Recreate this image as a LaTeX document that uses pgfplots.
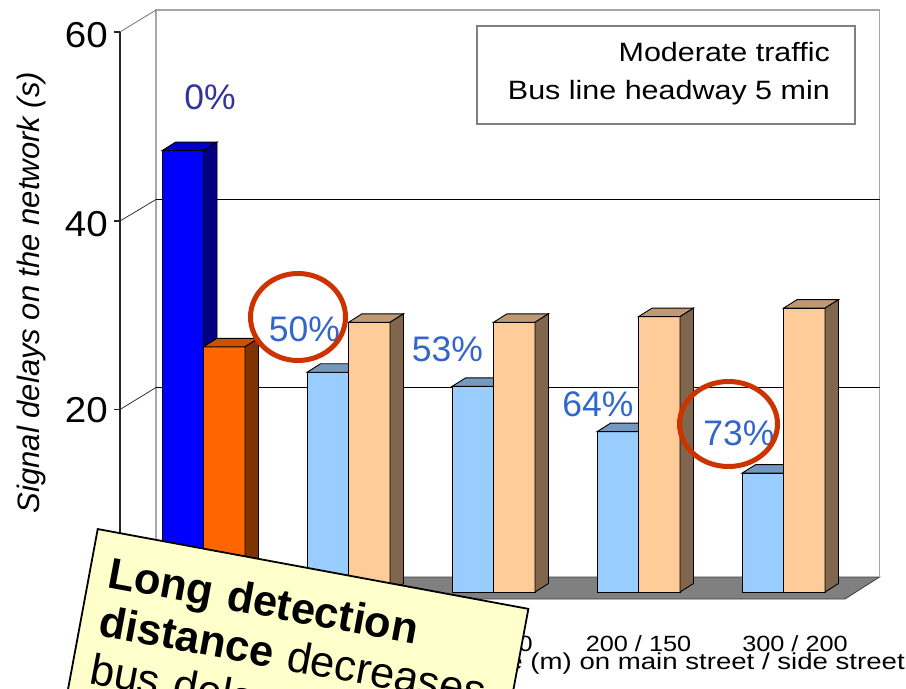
\documentclass[border=0pt]{standalone}
\usepackage{pgfplots}
\pgfplotsset{compat=1.18}
\usepackage{pgfplotstable}
\usepackage{fontspec}
\setmainfont{Liberation Sans}
\newfontfamily\wideA[FakeStretch=1.15]{Liberation Sans}
\newfontfamily\wideC[FakeStretch=1.2]{Liberation Sans}
\newfontfamily\wideB[FakeStretch=1.07]{Liberation Sans}

\definecolor{Afront0}{HTML}{0000FF}
\definecolor{Atop0}{HTML}{0000CC}
\definecolor{Aside0}{HTML}{000080}
\definecolor{Bfront0}{HTML}{FF6600}
\definecolor{Btop0}{HTML}{CC5200}
\definecolor{Bside0}{HTML}{803300}
\definecolor{Afront}{HTML}{99CCFF}
\definecolor{Atop}{HTML}{7399BF}
\definecolor{Aside}{HTML}{4D6680}
\definecolor{Bfront}{HTML}{FFCC99}
\definecolor{Btop}{HTML}{BF9973}
\definecolor{Bside}{HTML}{80664D}
\definecolor{pctA}{HTML}{333399}
\definecolor{pctB}{HTML}{3366CC}
\definecolor{ring}{HTML}{CC3300}
\definecolor{notefill}{HTML}{FFFFCC}
\definecolor{floorgray}{HTML}{808080}
\definecolor{wallgray}{HTML}{A6A6A6}

% signal delays (s): main = bus-priority series, side = second series
\pgfplotstableread{
group main side
0 46.8 26.0
1 23.3 28.6
2 21.8 28.6
3 17.0 29.2
4 12.6 30.1
}\delays

\def\bw{41.5}\def\ddx{13.5}\def\ddy{8.5}
\def\ybase{592}\def\yscale{9.43}\def\xzero{162}\def\xstep{145}

\newcommand\threedbar[5]{%
  \pgfmathsetmacro\xa{#1}%
  \pgfmathsetmacro\xb{#1+\bw}%
  \pgfmathsetmacro\xc{#1+\bw+\ddx}%
  \pgfmathsetmacro\xd{#1+\ddx}%
  \pgfmathsetmacro\yt{\ybase-\yscale*(#2)}%
  \pgfmathsetmacro\ytb{\yt-\ddy}%
  \pgfmathsetmacro\ybb{\ybase-\ddy}%
  \edef\temp{%
    \noexpand\addplot[fill=#3,draw=black,line width=0.9bp,mark=none] coordinates {(\xa,\ybase) (\xb,\ybase) (\xb,\yt) (\xa,\yt)} -- cycle;
    \noexpand\addplot[fill=#4,draw=black,line width=0.9bp,mark=none] coordinates {(\xa,\yt) (\xb,\yt) (\xc,\ytb) (\xd,\ytb)} -- cycle;
    \noexpand\addplot[fill=#5,draw=black,line width=0.9bp,mark=none] coordinates {(\xb,\ybase) (\xc,\ybb) (\xc,\ytb) (\xb,\yt)} -- cycle;
  }\temp
}

\begin{document}
\begin{tikzpicture}
\begin{axis}[
  width=906bp, height=689bp, scale only axis,
  xmin=0, xmax=906, ymin=0, ymax=689, y dir=reverse,
  hide axis,
]
% floor
\addplot[fill=floorgray, draw=black!75, line width=0.8bp, mark=none]
  coordinates {(120,599) (845,599) (879.5,577) (156,577)} -- cycle;
% back wall
\draw[wallgray, line width=1.5bp] (156,577) -- (156,10) -- (879.5,10) -- (879.5,577);
% side wall edges and gridlines
\draw[black!55, line width=0.8bp] (120,32) -- (156,10);
\draw[black!80, line width=0.8bp] (120,221) -- (156,199.5);
\draw[black!80, line width=0.8bp] (120,409.5) -- (156,387.5);
\draw[black, line width=0.9bp] (156,199.5) -- (879.5,199.5);
\draw[black, line width=0.9bp] (156,387.5) -- (879.5,387.5);
% front value axis with ticks
\draw[black!85, line width=1.2bp] (120,32) -- (120,599);
\draw[black!85, line width=1.2bp] (114,32) -- (120,32);
\draw[black!85, line width=1.2bp] (114,221) -- (120,221);
\draw[black!85, line width=1.2bp] (114,409.5) -- (120,409.5);
\draw[black!85, line width=1.2bp] (114,598) -- (120,598);
\node[anchor=east, inner sep=0, font=\wideB\fontsize{36bp}{40bp}\selectfont] at (108,35) {60};
\node[anchor=east, inner sep=0, font=\wideB\fontsize{36bp}{40bp}\selectfont] at (108,224) {40};
\node[anchor=east, inner sep=0, font=\wideB\fontsize{36bp}{40bp}\selectfont] at (108,410.5) {20};
\node[rotate=90, inner sep=0, font=\fontsize{31bp}{36bp}\selectfont\itshape] at (31,292.5) {Signal delays on the network (s)};

% bars
\pgfplotsinvokeforeach{0,...,4}{%
  \pgfplotstablegetelem{#1}{main}\of\delays \let\vA\pgfplotsretval
  \pgfplotstablegetelem{#1}{side}\of\delays \let\vB\pgfplotsretval
  \pgfmathsetmacro\xl{\xzero+\xstep*#1}%
  \pgfmathsetmacro\xr{\xl+\bw}%
  \ifnum#1=0 \def\sfx{0}\else\def\sfx{}\fi
  \threedbar{\xl}{\vA}{Afront\sfx}{Atop\sfx}{Aside\sfx}
  \threedbar{\xr}{\vB}{Bfront\sfx}{Btop\sfx}{Bside\sfx}
}

% category labels and axis title
\node[anchor=base, inner sep=0, font=\wideA\fontsize{22bp}{26bp}\selectfont] at (212,651) {no priority};
\node[anchor=base, inner sep=0, font=\wideA\fontsize{22bp}{26bp}\selectfont] at (350,651) {25 / 25};
\node[anchor=base, inner sep=0, font=\wideA\fontsize{22bp}{26bp}\selectfont] at (494,651) {50 / 50};
\node[anchor=base, inner sep=0, font=\wideA\fontsize{22bp}{26bp}\selectfont] at (638.5,651) {200 / 150};
\node[anchor=base, inner sep=0, font=\wideA\fontsize{22bp}{26bp}\selectfont] at (795,651) {300 / 200};
\node[anchor=base east, inner sep=0, font=\wideC\fontsize{23bp}{26bp}\selectfont] at (905,669) {Detection distance (m) on main street / side street};

% legend-like box
\draw[fill=white, draw=black!50, line width=1.5bp] (477,26) rectangle (855,124);
\node[anchor=base east, inner sep=0, font=\wideA\fontsize{26.5bp}{30bp}\selectfont] at (830,62) {Moderate traffic};
\node[anchor=base east, inner sep=0, font=\wideA\fontsize{26.5bp}{30bp}\selectfont] at (830,100) {Bus line headway 5 min};

% percentages
\node[inner sep=0, text=pctA, font=\fontsize{35.5bp}{40bp}\selectfont] at (210,97.5) {0\%};
\node[inner sep=0, text=pctB, font=\fontsize{35.5bp}{40bp}\selectfont] at (304.5,329) {50\%};
\node[inner sep=0, text=pctB, font=\fontsize{35.5bp}{40bp}\selectfont] at (447.5,349.5) {53\%};
\node[inner sep=0, text=pctB, font=\fontsize{35.5bp}{40bp}\selectfont] at (598,404.5) {64\%};
\node[inner sep=0, text=pctB, font=\fontsize{35.5bp}{40bp}\selectfont] at (739,433) {73\%};
\draw[ring, line width=5bp] (298,317) ellipse [x radius=47.5bp, y radius=43.5bp];
\draw[ring, line width=5bp] (728.5,424) ellipse [x radius=49bp, y radius=42.5bp];

% sticky note
\node[rotate=-10.5, anchor=north west, fill=notefill, draw=black, line width=1.8bp,
      text width=400bp, align=left, inner xsep=19bp, inner ysep=24bp,
      font=\fontsize{43.5bp}{49bp}\selectfont] at (97,528)
  {\textbf{Long detection}\\ \textbf{distance} decreases\\ bus delays\\ \strut\\ \strut\\ \strut};
\end{axis}
\pgfresetboundingbox
\path[use as bounding box] (current axis.south west) rectangle (current axis.north east);
\end{tikzpicture}
\end{document}
